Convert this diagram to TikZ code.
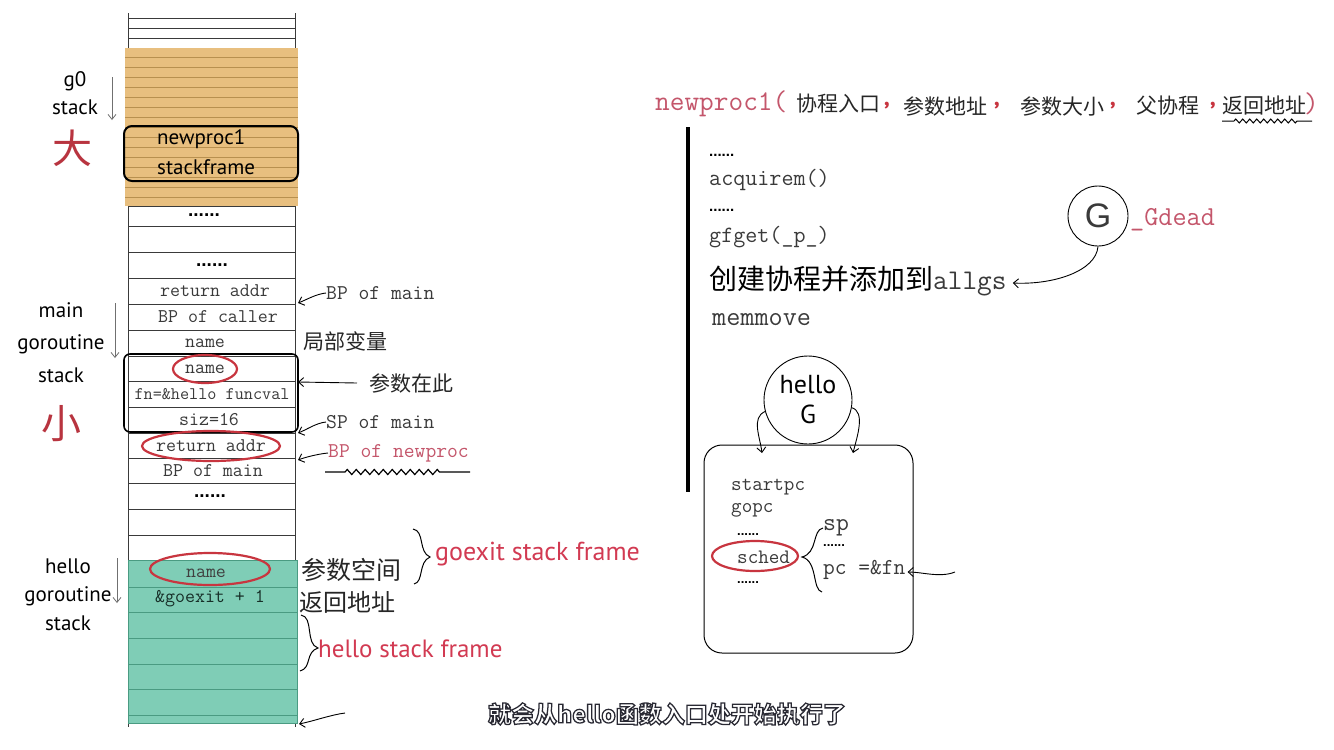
\documentclass[tikz,border=0pt]{standalone}
\usepackage{fontspec}
\setmainfont{Liberation Serif}
\newfontfamily\monof{Latin Modern Mono}
\newfontfamily\handf{PT Sans}
\newfontfamily\sansf{Liberation Sans}
\newfontfamily\cjkf{Noto Sans CJK SC}
\newfontfamily\subf[FakeBold=5.5]{Noto Sans CJK SC}
\usetikzlibrary{arrows.meta,decorations.pathmorphing,calc}
\definecolor{orangef}{HTML}{E8BF7F}
\definecolor{orangel}{HTML}{B8904F}
\definecolor{greenf}{HTML}{7FCDB6}
\definecolor{greenl}{HTML}{4A9B82}
\definecolor{redc}{HTML}{C8353F}
\definecolor{pinkt}{HTML}{C4566B}
\definecolor{redt}{HTML}{D23A52}
\definecolor{textg}{HTML}{3A3A3A}
\definecolor{lineg}{HTML}{3A3A3A}
\definecolor{grayarr}{HTML}{707070}
\definecolor{hanzi}{HTML}{B8343F}
\begin{document}
\begin{tikzpicture}[x=1pt,y=-1pt,
  stk/.style={line width=0.8pt, draw=lineg},
  cell/.style={font={\monof\fontsize{19.4}{19.4}\selectfont}, text=textg, inner sep=0pt},
  dotsf/.style={font={\sansf\bfseries\fontsize{19}{19}\selectfont}, inner sep=0pt},
  dotss/.style={font={\sansf\bfseries\fontsize{15}{15}\selectfont}, inner sep=0pt, anchor=west},
  hand/.style={font={\handf\fontsize{21}{21}\selectfont}, inner sep=0pt},
  ann/.style={font={\monof\fontsize{21}{21}\selectfont}, text=textg, inner sep=0pt, anchor=west},
  code/.style={font={\monof\fontsize{23.4}{23.4}\selectfont}, text=textg, inner sep=0pt, anchor=west},
  boxt/.style={font={\monof\fontsize{20.5}{20.5}\selectfont}, text=textg, inner sep=0pt, anchor=west},
  cjk/.style={font={\cjkf\fontsize{21}{21}\selectfont}, text=black!85, inner sep=0pt},
  redcomma/.style={font={\handf\bfseries\fontsize{24}{24}\selectfont}, text=redc, inner sep=0pt},
  arr/.style={line width=0.9pt, -{Straight Barb[length=5pt,width=9pt]}},
  garr/.style={line width=0.8pt, draw=grayarr, -{Straight Barb[length=5pt,width=8pt]}},
  redell/.style={draw=redc, line width=2.2pt},
  subt/.style={font={\subf\bfseries\fontsize{23}{23}\selectfont}, inner sep=0pt}]
\useasboundingbox[fill=white] (0,0) rectangle (1334,750);

% ---------- stack ----------
\draw[stk] (128,13) -- (128,48) (295,13) -- (295,48);
\draw[stk] (128,206) -- (128,560) (295,206) -- (295,560);
\draw[stk] (128,723) -- (128,727) (295,723) -- (295,727);
\foreach \y in {18,28,38} \draw[stk] (128,\y) -- (295,\y);
\fill[orangef] (125,48) rectangle (298,206);
\foreach \y in {57,67,...,197} \draw[orangel, line width=0.8pt] (125,\y) -- (298,\y);
\foreach \y in {206,226,252,278,304,330,356,381,407,433,458,483,509,535} \draw[stk] (128,\y) -- (295,\y);
\filldraw[fill=greenf, draw=greenl, line width=0.8pt] (128,560) rectangle (297,723);
\foreach \y in {587,612,638,664,689,715} \draw[greenl, line width=0.8pt] (128,\y) -- (297,\y);

\draw[line width=2pt, rounded corners=8pt] (124,126) rectangle (298,181);
\draw[line width=1.6pt, rounded corners=6pt] (124,354) rectangle (298,432);

\node[hand, anchor=west] (np1) at (157,139) {newproc1};
\node[hand, anchor=west] (sf) at (157,167) {stackframe};

\node[dotsf] (d1) at (204,215) {......};
\node[dotsf] (d2) at (212,265) {......};
\node[cell] (ra1) at (215,291) {return addr};
\node[cell] (bpc) at (218,317) {BP of caller};
\node[cell] (nm1) at (205,343) {name};
\node[cell] (nm2) at (205,369) {name};
\node[cell, font={\monof\fontsize{17.7}{17.7}\selectfont}] (fn) at (212,394) {fn=\&hello funcval};
\node[cell] (siz) at (209,420) {siz=16};
\node[cell] (ra2) at (211,446) {return addr};
\node[cell] (bpm) at (213,471) {BP of main};
\node[dotsf] (d3) at (210,496) {......};
\node[cell, text=black!75] (nm3) at (206,573) {name};
\node[cell, text=black!70!greenl] (gx) at (210,599) {\&goexit + 1};

\draw[redell] (nm2) ellipse (32pt and 14pt);
\draw[redell] (ra2) ellipse (69pt and 15pt);
\draw[redell] (210,569) ellipse (60pt and 16pt);

% ---------- left labels ----------
\node[hand] (g0) at (75,81) {g0};
\node[hand] (g0s) at (75,107) {stack};
\coordinate (ga1) at (112,77); \coordinate (ga2) at (112,120);
\draw[garr] (ga1) -- (ga2);
\node[font={\cjkf\fontsize{40}{40}\selectfont}, text=hanzi, inner sep=0pt] (da) at (72,148) {大};

\node[hand] (mm) at (61,310) {main};
\node[hand] (mg) at (61,344) {goroutine};
\node[hand] (ms) at (61,375) {stack};
\coordinate (ma1) at (115,303); \coordinate (ma2) at (115,358);
\draw[garr] (ma1) -- (ma2);
\node[font={\cjkf\fontsize{40}{40}\selectfont}, text=hanzi, inner sep=0pt] (xiao) at (61,424) {小};

\node[hand] (hh) at (68,566) {hello};
\node[hand] (hg2) at (68,596) {goroutine};
\node[hand] (hs) at (68,623) {stack};
\coordinate (ha1) at (117,558); \coordinate (ha2) at (117,603);
\draw[garr] (ha1) -- (ha2);

% ---------- right annotations of stack ----------
\node[ann] (bpmain) at (326,293) {BP of main};
\coordinate (t1) at (298,303);
\draw[arr] (bpmain.west) .. controls +(-10,1) and +(8,-3) .. (t1);
\node[cjk, anchor=west] (jbbl) at (303,341) {局部变量};
\node[cjk, anchor=west] (canshu) at (369,383) {参数在此};
\coordinate (t2) at (298,382);
\draw[arr] ($(canshu.west)+(-12,0)$) -- (t2);
\node[ann] (spmain) at (326,422) {SP of main};
\coordinate (t3) at (298,433);
\draw[arr] (spmain.west) .. controls +(-10,1) and +(8,-3) .. (t3);
\node[ann, text=pinkt] (bpnp) at (328,453) {BP of newproc};
\coordinate (t4) at (298,460);
\draw[arr] (bpnp.west) .. controls +(-10,1) and +(8,-3) .. (t4);
\coordinate (w1) at (325,472); \coordinate (w2) at (470,472);
\draw[line width=1.2pt, decorate, decoration={zigzag, segment length=9pt, amplitude=2.5pt, pre length=20pt, post length=28pt}] (w1) -- (w2);

\node[cjk, anchor=west, font={\cjkf\fontsize{25}{25}\selectfont}] (cskj) at (301,570) {参数空间};
\node[cjk, anchor=west, font={\cjkf\fontsize{24}{24}\selectfont}] (fhdz) at (299,602) {返回地址};
\draw[line width=1pt] (413,529) .. controls (425,531) and (418,552) .. (430,557) .. controls (418,562) and (424,582) .. (414,584);
\node[hand, anchor=west, text=redt, font={\handf\fontsize{26}{26}\selectfont}] (gsf) at (435,554) {goexit stack frame};
\draw[line width=1pt] (301,615) .. controls (314,617) and (305,644) .. (318,648) .. controls (305,652) and (312,668) .. (300,671);
\node[hand, anchor=west, text=redt, font={\handf\fontsize{25}{25}\selectfont}] (hsf) at (318,649) {hello stack frame};
\coordinate (b1) at (345,713); \coordinate (b2) at (299,724);
\draw[arr] (b1) .. controls +(-15,2) and +(15,-3) .. (b2);

% ---------- right: newproc1 ----------
\node[anchor=west, inner sep=0pt, font={\monof\fontsize{28.5}{28.5}\selectfont}, text=pinkt] (npc) at (655,104) {newproc1(};
\node[cjk, anchor=west] (a1) at (796,104) {协程入口};
\node[redcomma] (c1) at (887,106) {,};
\node[cjk, anchor=west] (a2) at (903,106) {参数地址};
\node[redcomma] (c2) at (997,106) {,};
\node[cjk, anchor=west] (a3) at (1020,106) {参数大小};
\node[redcomma] (c3) at (1113,106) {,};
\node[cjk, anchor=west] (a4) at (1136,106) {父协程};
\node[redcomma] (c4) at (1213,106) {,};
\node[cjk, anchor=west] (a5) at (1222,106) {返回地址};
\node[anchor=west, inner sep=0pt, font={\monof\fontsize{28.5}{28.5}\selectfont}, text=pinkt] (rp) at (1304,104) {)};
\coordinate (w3) at (1222,121); \coordinate (w4) at (1312,121);
\draw[line width=1pt, decorate, decoration={zigzag, segment length=7pt, amplitude=2pt, pre length=12pt, post length=14pt}] (w3) -- (w4);

\coordinate (v1) at (688,127); \coordinate (v2) at (688,492);
\draw[line width=4pt] (v1) -- (v2);

\node[dotss] (rd1) at (709,155) {......};
\node[code] (acq) at (709,180) {acquirem()};
\node[dotss] (rd2) at (709,210) {......};
\node[code] (gfg) at (709,237) {gfget(\_p\_)};
\node[anchor=west, inner sep=0pt] (allgs) at (709,281) {{\cjkf\fontsize{28}{28}\selectfont 创建协程并添加到}{\monof\fontsize{28.5}{28.5}\selectfont\color{textg}allgs}};
\node[code, font={\monof\fontsize{27.4}{27.4}\selectfont}] (mmv) at (712,320) {memmove};

\node[circle, draw, line width=0.9pt, minimum size=60pt, inner sep=0pt, font={\sansf\fontsize{34}{34}\selectfont}, text=textg] (G) at (1098,216) {G};
\node[anchor=west, inner sep=0pt, font={\monof\fontsize{27.4}{27.4}\selectfont}, text=pinkt] (gd) at (1130,220) {\_Gdead};
\draw[arr] (G.south) .. controls +(-2,25) and +(40,2) .. ($(allgs.east)+(6,2)$);

% ---------- hello G ----------
\node[circle, draw, line width=0.9pt, minimum size=88pt, inner sep=0pt, align=center, font={\handf\fontsize{26}{30}\selectfont}] (hg) at (808,400) {hello\\G};
\node[draw, line width=1pt, rounded corners=18pt, minimum width=209pt, minimum height=208pt, inner sep=0pt] (gbox) at (808.5,549) {};
\coordinate (hl) at (762,453); \coordinate (hr) at (853,453);
\draw[arr] (hg.195) .. controls +(-14,6) and +(-2,-16) .. (hl);
\draw[arr] (hg.-10) .. controls +(14,4) and +(4,-16) .. (hr);

\node[boxt] (spc) at (731,487) {startpc};
\node[boxt] (gopc) at (731,510) {gopc};
\node[dotss, font={\sansf\bfseries\fontsize{13}{13}\selectfont}] (bd1) at (737,535) {......};
\node[boxt] (sched) at (737,557) {sched};
\node[dotss, font={\sansf\bfseries\fontsize{13}{13}\selectfont}] (bd2) at (737,583) {......};
\draw[redell] (755,556) ellipse (43pt and 15pt);
\draw[line width=1pt] (823,528) .. controls (812,530) and (818,553) .. (802,557) .. controls (818,561) and (812,590) .. (822,592);
\node[boxt, font={\monof\fontsize{25}{25}\selectfont}] (sp) at (823,528) {sp};
\node[dotss, font={\sansf\bfseries\fontsize{13}{13}\selectfont}] (bd3) at (823,546) {......};
\node[boxt, font={\monof\fontsize{22.8}{22.8}\selectfont}] (pcfn) at (823,570) {pc =\&fn};
\coordinate (pa) at (955,572);
\draw[arr] (pa) .. controls +(-15,6) and +(15,0) .. ($(pcfn.east)+(2,2)$);

% ---------- subtitle (white fill, dark stroke) ----------
\node[subt, text=white] (subw) at (667,714) {\special{pdf:code 0.16 0.16 0.2 RG}就会从hello函数入口处开始执行了};
\end{tikzpicture}
\end{document}
